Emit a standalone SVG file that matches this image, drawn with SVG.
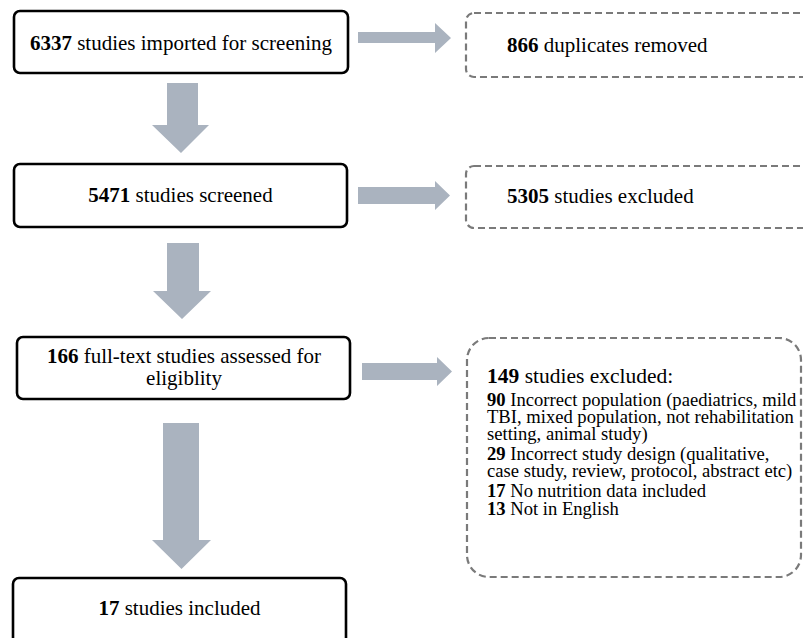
<svg xmlns="http://www.w3.org/2000/svg" width="803" height="638" viewBox="0 0 803 638">
<style>
.box{fill:#fff;stroke:#000;stroke-width:2.6}
.dbox{fill:#fff;stroke:#7a7a7a;stroke-width:2.2;stroke-dasharray:7 4}
.arr{fill:#aab3bf}
text{font-family:"Liberation Serif","Times New Roman",serif;fill:#000}
.t{font-size:21px}
.s{font-size:18.6px}
.h{font-size:21.5px}
b,.b{font-weight:bold}
</style>
<rect width="803" height="638" fill="#fff"/>
<g id="connectors">
<path class="arr" d="M358,32 H435 V23 L451,38 L435,53 V43 H358 Z"/>
<path class="arr" d="M358,187 H435 V181 L450,195.5 L435,210 V204 H358 Z"/>
<path class="arr" d="M362,363 H437 V357 L452,371.5 L437,386 V380 H362 Z"/>
<path class="arr" d="M167,83 H198 V125 H209 L181,153 L152,125 H167 Z"/>
<path class="arr" d="M167,243 H199 V291 H211 L182,319 L153,291 H167 Z"/>
<path class="arr" d="M163,423 H199 V540 H211 L181.5,569 L152,540 H163 Z"/>
</g>
<g id="n1">
<rect class="box" x="14" y="11" width="334" height="62" rx="6"/>
<text class="t" x="181" y="50" text-anchor="middle"><tspan class="b">6337</tspan> studies imported for screening</text>
</g>
<g id="n2">
<rect class="box" x="14" y="164" width="333" height="63" rx="6"/>
<text class="t" x="180.5" y="202" text-anchor="middle"><tspan class="b">5471</tspan> studies screened</text>
</g>
<g id="n3">
<rect class="box" x="17" y="337" width="333" height="62" rx="6"/>
<text class="t" x="184" y="363" text-anchor="middle"><tspan class="b">166</tspan> full-text studies assessed for</text>
<text class="t" x="184" y="385" text-anchor="middle">eligiblity</text>
</g>
<g id="n4">
<rect class="box" x="13" y="578" width="333" height="70" rx="6"/>
<text class="t" x="179.5" y="615" text-anchor="middle"><tspan class="b">17</tspan> studies included</text>
</g>
<g id="x1">
<rect class="dbox" x="466" y="13" width="360" height="64" rx="8"/>
<text class="t" x="507" y="52"><tspan class="b">866</tspan> duplicates removed</text>
</g>
<g id="x2">
<rect class="dbox" x="466" y="166" width="360" height="62" rx="8"/>
<text class="t" x="507" y="203"><tspan class="b">5305</tspan> studies excluded</text>
</g>
<g id="x3">
<rect class="dbox" x="467" y="338" width="334" height="239" rx="22"/>
<text class="h" x="487" y="383"><tspan class="b">149</tspan> studies excluded:</text>
<text class="s" x="487" y="406"><tspan class="b">90</tspan> Incorrect population (paediatrics, mild</text>
<text class="s" x="487" y="423">TBI, mixed population, not rehabilitation</text>
<text class="s" x="487" y="440">setting, animal study)</text>
<text class="s" x="487" y="460"><tspan class="b">29</tspan> Incorrect study design (qualitative,</text>
<text class="s" x="487" y="477">case study, review, protocol, abstract etc)</text>
<text class="s" x="487" y="497"><tspan class="b">17</tspan> No nutrition data included</text>
<text class="s" x="487" y="515"><tspan class="b">13</tspan> Not in English</text>
</g>
</svg>
